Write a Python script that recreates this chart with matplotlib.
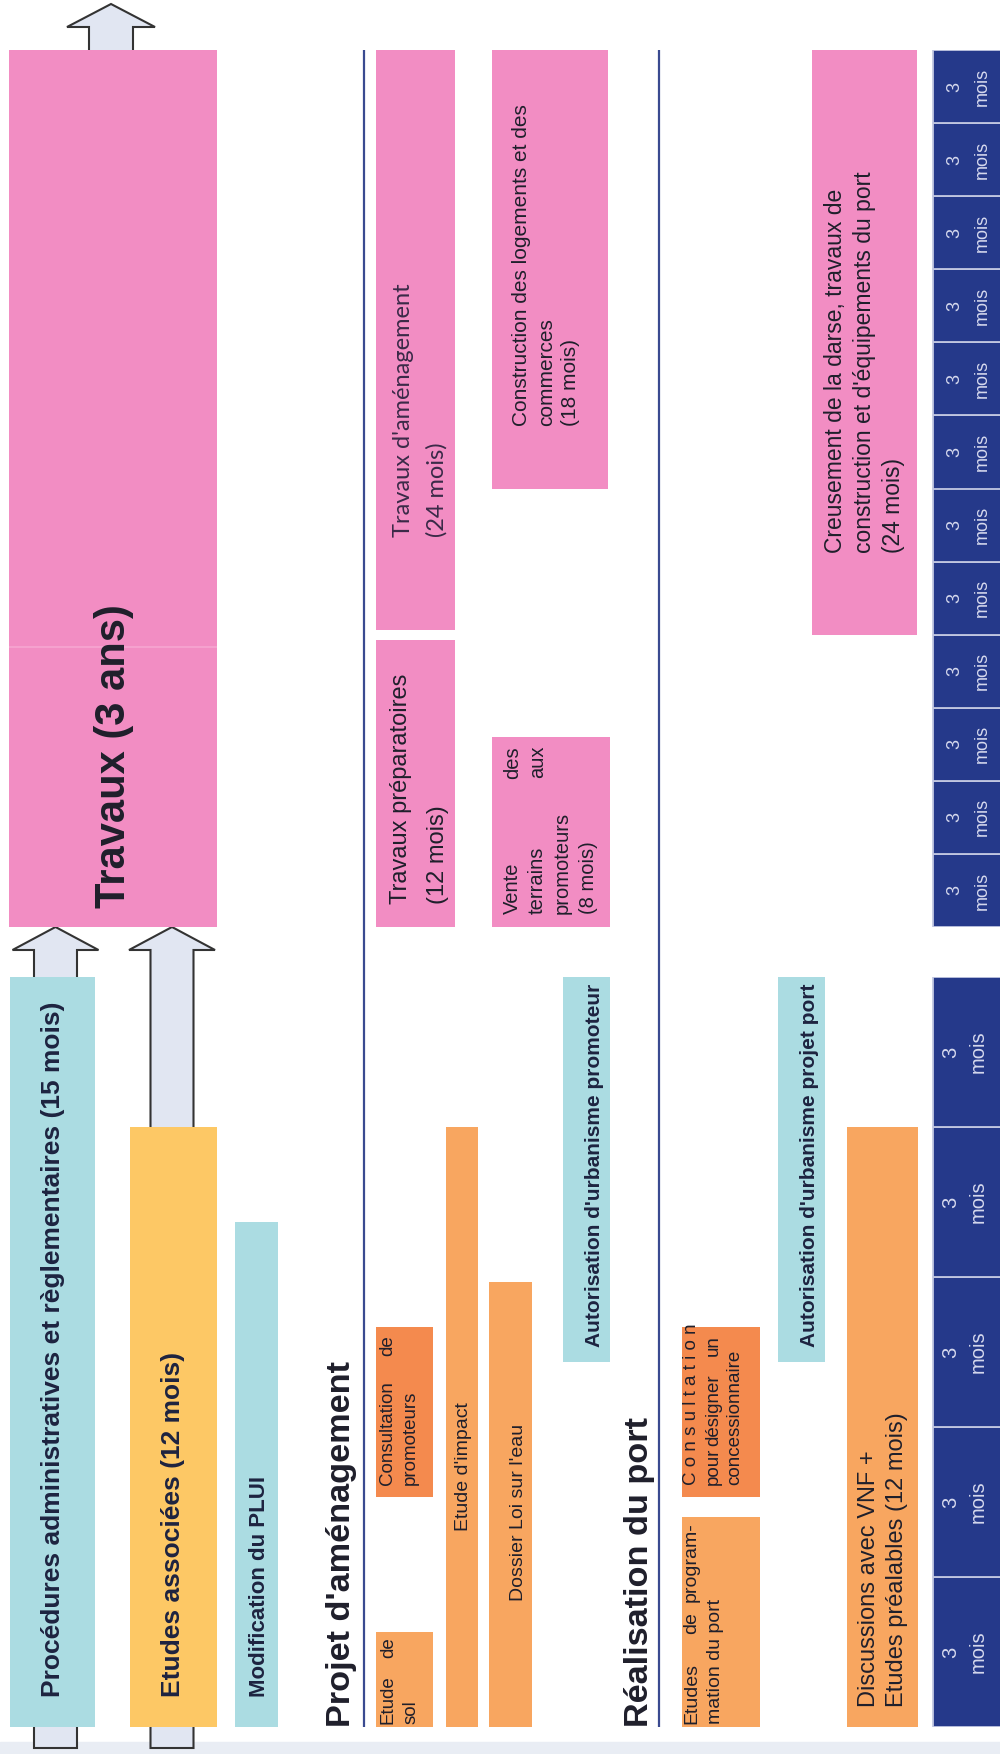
import matplotlib
matplotlib.use("Agg")
import matplotlib.pyplot as plt
from matplotlib.patches import Polygon, Rectangle

plt.rcParams['font.family'] = ['Liberation Sans', 'DejaVu Sans']

# ---- data (months) ----
# phase 1 : procedures / etudes (bottom part, 15 mois)
pre_tasks = ["procedures", "etudes_assoc", "plui", "etude_sol", "consult_prom",
             "etude_impact", "loi_eau", "autor_prom", "etudes_prog",
             "consult_port", "autor_port", "discussions"]
pre_start = [0, 0, 0, 0, 4.6, 0, 0, 7.3, 0, 4.6, 7.3, 0]
pre_dur = [15, 12, 10.1, 1.9, 3.4, 12, 8.9, 7.7, 4.2, 3.4, 7.7, 12]

# phase 2 : travaux (top part, 3 ans)
trav_tasks = ["travaux", "trav_prep", "trav_amen", "vente", "construction", "creusement"]
trav_start = [0, 0, 12.2, 0, 18, 12]
trav_dur = [36, 11.8, 23.8, 7.8, 18, 24]

# time scale blocks
pre_blocks = [3, 3, 3, 3, 3]
trav_blocks = [3] * 12
block_label = "3\nmois"

# ---- styles / layout ----
BLUE = '#abdce2'
YELLOW = '#fdc865'
ORANGE = '#f8a660'
ORANGE2 = '#f48a4e'
PINK = '#f28dc3'
NAVY = '#25398a'
LINE = '#3a4a90'
TXT = '#1f1f2b'
TXTB = '#1d2340'

pre_x = [(10, 95), (130, 217), (235, 278), (376, 433), (376, 433),
         (446, 478), (489, 532), (563, 610), (682, 760), (682, 760),
         (778, 825), (847, 918)]
pre_col = [BLUE, YELLOW, BLUE, ORANGE, ORANGE2, ORANGE, ORANGE, BLUE,
           ORANGE, ORANGE2, BLUE, ORANGE]
trav_x = [(9, 217), (376, 455), (376, 455), (492, 610), (492, 608), (812, 917)]

W, H = 1000, 1754
fig = plt.figure(figsize=(10, 17.54), dpi=100)
fig.patch.set_facecolor('white')

ov = fig.add_axes([0, 0, 1, 1], zorder=0)
ov.set_xlim(0, W)
ov.set_ylim(H, 0)
ov.axis('off')


def phase_axes(top, bottom, months):
    ax = fig.add_axes([0, 1 - bottom / H, 1, (bottom - top) / H], zorder=1)
    ax.set_xlim(0, W)
    ax.set_ylim(0, months)
    ax.axis('off')
    ax.patch.set_alpha(0)
    return ax


PRE_TOP, PRE_BOT = 977, 1727
TRAV_TOP, TRAV_BOT = 50, 927
ax_pre = phase_axes(PRE_TOP, PRE_BOT, sum(pre_blocks))
ax_trav = phase_axes(TRAV_TOP, TRAV_BOT, sum(trav_blocks))

# bars
for (x0, x1), s, d, c in zip(pre_x, pre_start, pre_dur, pre_col):
    ax_pre.bar((x0 + x1) / 2, d, bottom=s, width=x1 - x0, color=c, linewidth=0)
for (x0, x1), s, d in zip(trav_x, trav_start, trav_dur):
    ax_trav.bar((x0 + x1) / 2, d, bottom=s, width=x1 - x0, color=PINK, linewidth=0)

# faint seam in the big "Travaux" block (scan)
ax_trav.hlines(11.5, 9, 217, color='#f6a6d1', linewidth=1.2)


def timeline(ax, blocks, size, xs):
    bottoms = [sum(blocks[:i]) for i in range(len(blocks))]
    ax.bar(969, blocks, bottom=bottoms, width=72, color=NAVY,
           edgecolor='#c3c8e2', linewidth=1.3)
    for b, h in zip(bottoms, blocks):
        for x, part in zip(xs, block_label.split('\n')):
            ax.text(x, b + h / 2, part, rotation=90, rotation_mode='anchor',
                    ha='center', va='baseline', fontsize=size, color='#d6d9ee')


timeline(ax_pre, pre_blocks, 14.5, [956, 984])
timeline(ax_trav, trav_blocks, 13, [959, 987])


def label(ax, xs, y, lines, size, y_end=None, **kw):
    kw.setdefault('color', TXT)
    for x, line in zip(xs, lines):
        if isinstance(line, tuple):
            n = len(line)
            for i, w in enumerate(line):
                if i == 0:
                    yy, ha = y, 'left'
                elif i == n - 1:
                    yy, ha = y_end, 'right'
                else:
                    yy, ha = y + (y_end - y) * i / (n - 1), 'center'
                ax.text(x, yy, w, rotation=90, rotation_mode='anchor', ha=ha,
                        va='baseline', fontsize=size, **kw)
        else:
            ax.text(x, y, line, rotation=90, rotation_mode='anchor', ha='left',
                    va='baseline', fontsize=size, **kw)


B = dict(fontweight='bold', color=TXTB)
label(ax_pre, [60], 0.6, ["Procédures administratives et règlementaires (15 mois)"], 19, **B)
label(ax_pre, [180], 0.6, ["Etudes associées (12 mois)"], 19, **B)
label(ax_pre, [265], 0.6, ["Modification du PLUI"], 16, **B)
label(ax_pre, [393, 416], 0.06, [("Etude", "de"), "sol"], 13.5, y_end=1.8)
label(ax_pre, [392, 415], 4.84, [("Consultation", "de"), "promoteurs"], 13.5, y_end=7.84)
label(ax_pre, [468], 3.92, ["Etude d'impact"], 14)
label(ax_pre, [523], 2.52, ["Dossier Loi sur l'eau"], 14)
label(ax_pre, [600], 7.6, ["Autorisation d'urbanisme promoteur"], 15, **B)
label(ax_pre, [696, 720], 0.06, [("Etudes", "de", "program-"), "mation du port"], 14, y_end=4.1)
label(ax_pre, [696, 718, 739], 4.84,
      [("C o n s u l t a t i o n",), ("pour", "désigner", "un"), "concessionnaire"],
      13.5, y_end=7.84)
label(ax_pre, [815], 7.6, ["Autorisation d'urbanisme projet port"], 15, **B)
label(ax_pre, [875, 903], 0.4, ["Discussions avec VNF +", "Etudes préalables (12 mois)"], 17)

# section titles
label(ax_pre, [350], 0, ["Projet d'aménagement"], 24.7, fontweight='bold')
label(ax_pre, [648], 0, ["Réalisation du port"], 24.7, fontweight='bold')

label(ax_trav, [125], 0.8, ["Travaux (3 ans)"], 30, fontweight='bold')
label(ax_trav, [407, 444], 0.95, ["Travaux préparatoires", "(12 mois)"], 17)
label(ax_trav, [410, 444], 16.0, ["Travaux d'aménagement", "(24 mois)"], 17,
      family=['Lato', 'DejaVu Sans'], color='#3a2a48')
label(ax_trav, [518, 543, 568, 594], 0.53,
      [("Vente", "des"), ("terrains", "aux"), "promoteurs", "(8 mois)"], 14.5, y_end=7.43)
label(ax_trav, [527, 552, 576], 20.57,
      ["Construction des logements et des", "commerces", "(18 mois)"], 15)
label(ax_trav, [842, 871, 900], 15.35,
      ["Creusement de la darse, travaux de", "construction et d'équipements du port",
       "(24 mois)"], 16.5)

# section separators
for x in (364, 659):
    ov.vlines(x, TRAV_TOP, PRE_BOT, color=LINE, linewidth=1.6)


# hollow arrows (phase 1 -> travaux, travaux -> suite)
def arrow(xc, tail, tip, sw=43, hw=86, hl=23):
    pts = [(xc - sw / 2, tail), (xc - sw / 2, tip + hl), (xc - hw / 2, tip + hl),
           (xc, tip), (xc + hw / 2, tip + hl), (xc + sw / 2, tip + hl),
           (xc + sw / 2, tail)]
    ov.add_patch(Polygon(pts, closed=True, facecolor='#e1e6f2',
                         edgecolor='#333333', linewidth=1.5, zorder=2))


arrow(55.5, 1748, TRAV_BOT)
arrow(172, 1748, TRAV_BOT)
arrow(111, TRAV_TOP + 10, 4, sw=44, hw=88)

# scan edge
ov.add_patch(Rectangle((0, 1742), W, 12, color='#e9edf4', zorder=1))

fig.savefig('out.png', dpi=100)
